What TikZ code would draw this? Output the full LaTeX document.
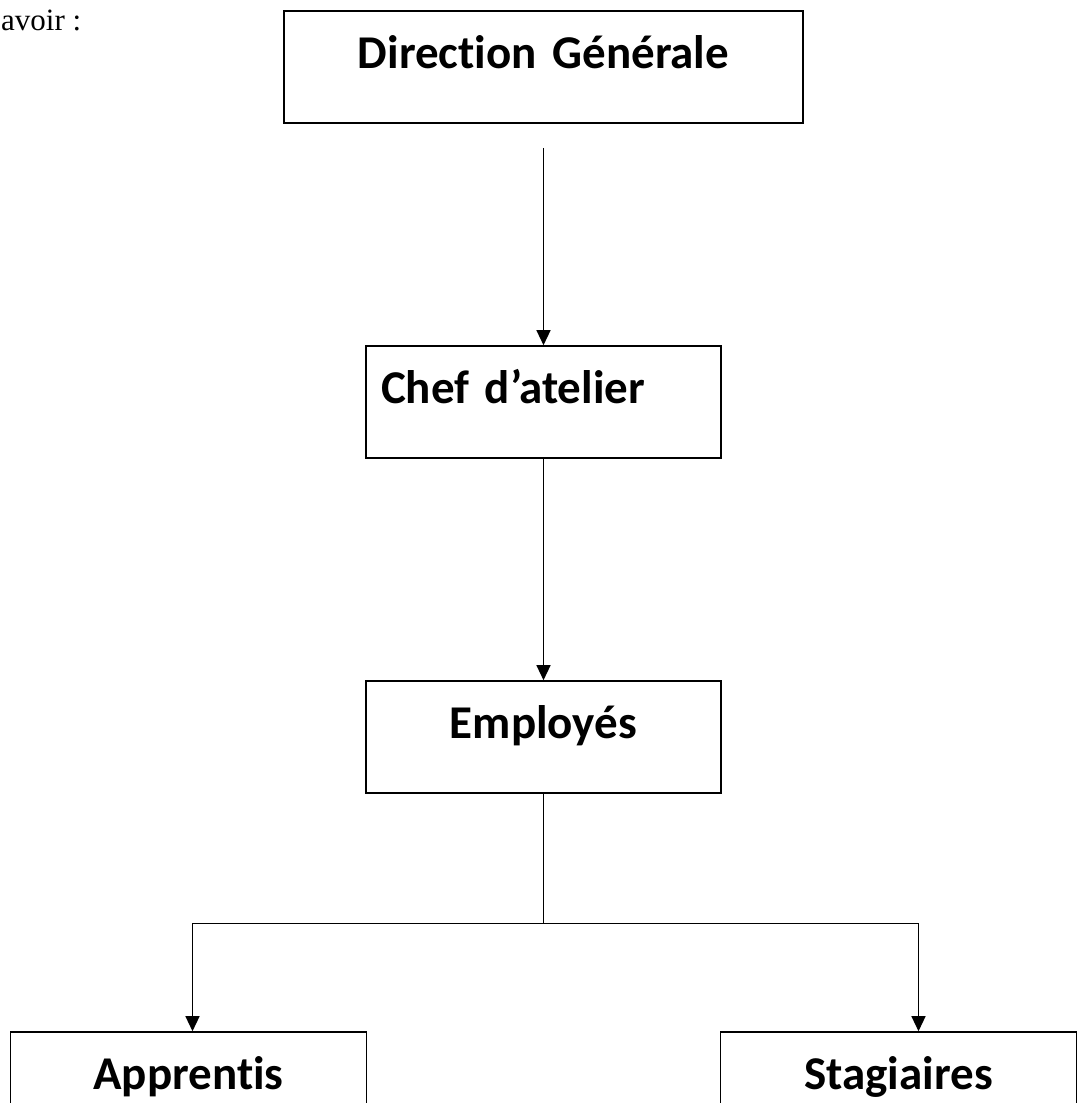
\documentclass[tikz,border=0pt]{standalone}
\usepackage{fontspec}
\setmainfont{Carlito}[Ligatures={NoCommon}]
\newfontfamily\serifont{Liberation Serif}
\usetikzlibrary{positioning,arrows.meta}

\begin{document}
\begin{tikzpicture}[
       x=1pt, y=-1pt,
       node distance=335pt,
       box/.style={rectangle, draw=black, line width=1.6pt, inner xsep=0pt, inner ysep=0pt, text height=57pt, text depth=55pt, align=center, font=\fontsize{47}{52}\selectfont\bfseries},
       arrow/.style={-{Triangle[length=15pt,width=14pt]}, line width=1.3pt, black},
       line/.style={line width=1.3pt, black}
   ]
   \useasboundingbox (0,0) rectangle (1091,1103);
   \clip (0,0) rectangle (1091,1103);
   \node[anchor=base west, inner sep=0pt, font=\serifont\fontsize{31}{36}\selectfont] (intro) at (1,30) {avoir :};

   \node[box, text width=519pt] (dg) at (543.5,67) {Direction Générale};
   \node[box, text width=325pt, inner xsep=15pt, align=left, below of=dg] (chef) {Chef d’atelier};
   \node[box, text width=355pt, below of=chef] (emp) {Employés};
   \node[box, text width=356pt, below of=emp, node distance=351pt, xshift=-355pt] (appr) {Apprentis};
   \node[box, text width=356pt, below of=emp, node distance=351pt, xshift=355pt] (stag) {Stagiaires};
   \coordinate[below=130pt of emp.south] (split);

   \draw[arrow] ([yshift=-24pt]dg.south) -- (chef);
   \draw[arrow] (chef) -- (emp);
   \draw[line] (emp) -- (split);
   \draw[arrow] (split) -| ([xshift=4pt]appr.north);
   \draw[arrow] (split) -| ([xshift=20pt]stag.north);
   \end{tikzpicture}
\end{document}
